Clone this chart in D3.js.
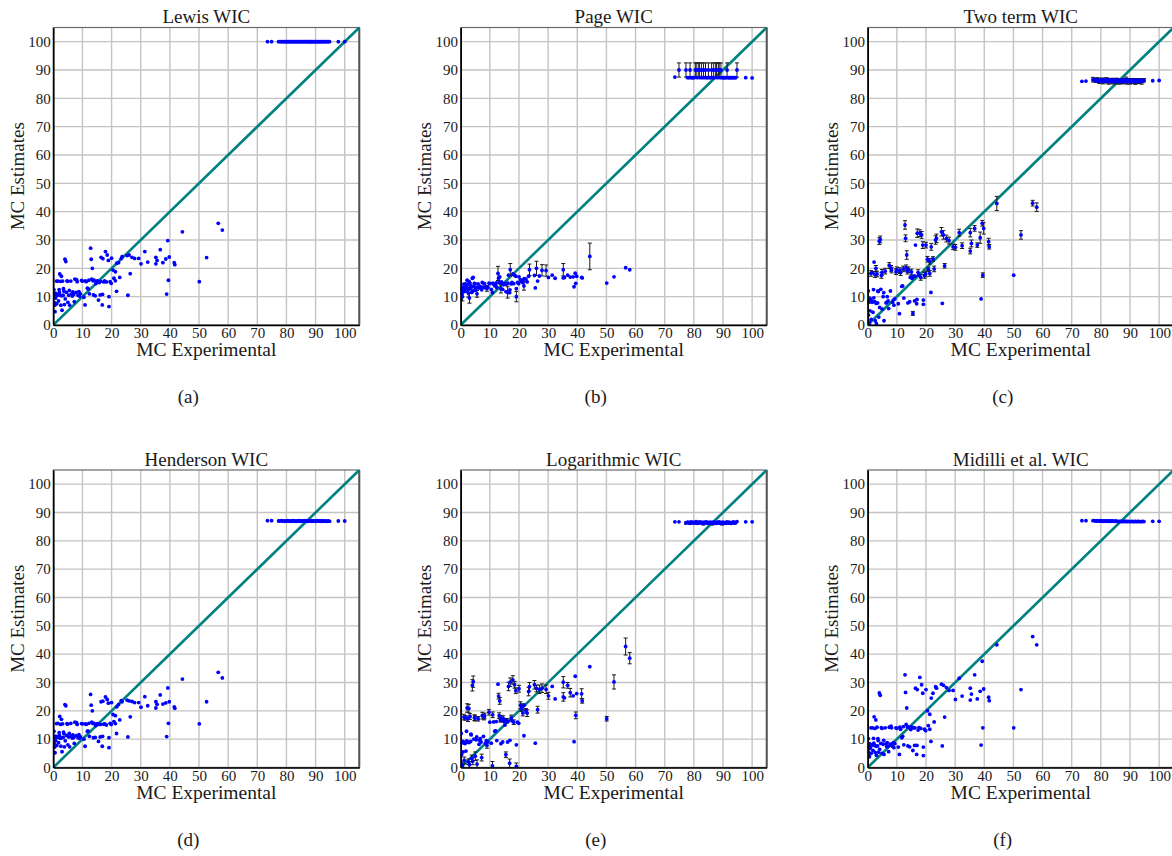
<!DOCTYPE html>
<html>
<head>
<meta charset="utf-8">
<script src="https://cdnjs.cloudflare.com/ajax/libs/d3/7.8.5/d3.min.js"></script>
<style>
  body { margin: 0; background: #fff; }
  svg { display: block; }
  svg text { font-family: 'Liberation Serif', 'Times New Roman', 'DejaVu Serif', serif; }
</style>
</head>
<body>
<svg id="chart" width="1172" height="856"></svg>
<script>
'use strict';

var tickValues = [0, 10, 20, 30, 40, 50, 60, 70, 80, 90, 100];

// MC experimental values, low group then the high group near 80-100
var expLow = [
  0.2, 0.3, 0.4, 0.5, 0.6, 0.8, 1.0, 1.2, 1.4, 1.6,
  1.8, 2.0, 2.2, 2.4, 2.6, 2.8, 3.0, 3.2, 3.4, 3.6,
  3.8, 4.0, 4.3, 4.5, 4.7, 5.0, 5.3, 5.6, 6.0, 6.3,
  6.7, 7.0, 7.4, 7.8, 8.0, 8.5, 9.0, 9.3, 9.7, 10.0,
  10.5, 10.9, 11.3, 11.7, 12.0, 12.4, 12.8, 13.0, 13.2, 13.4,
  13.8, 14.0, 14.4, 14.8, 15.2, 15.5, 15.8, 16.1, 16.4, 16.8,
  16.9, 17.0, 17.3, 17.9, 18.5, 18.9, 19.1, 19.1, 19.5, 19.9,
  20.0, 20.5, 21.3, 21.3, 21.7, 21.8, 22.4, 22.8, 23.3, 23.6,
  25.3, 25.6, 26.0, 26.4, 27.0, 27.9, 29.3, 30.1, 31.4, 32.4,
  35.2, 35.2, 35.6, 36.7, 37.6, 38.6, 38.9, 39.3, 39.5, 39.8,
  41.5, 41.7, 44.3, 50.1, 52.6, 56.6, 58.0,
  0.1, 0.7, 1.1, 1.5, 2.1, 2.5, 2.9, 3.5, 4.1, 4.9, 5.5, 6.5,
  7.2, 8.2, 8.8, 11.0, 12.2, 13.6, 14.6, 15.0, 16.2, 17.6, 18.2, 20.8
];
var expHigh = [
  73.5, 74.9, 77.3, 77.8, 78.3, 78.7, 79.0, 79.4, 79.8, 80.1,
  80.5, 80.8, 81.2, 81.5, 81.9, 82.2, 82.6, 82.9, 83.3, 83.6,
  84.0, 84.3, 84.7, 85.0, 85.4, 85.7, 86.1, 86.4, 86.8, 87.1,
  87.5, 87.8, 88.1, 88.4, 88.7, 89.0, 89.3, 89.7, 90.0, 90.4,
  90.7, 91.1, 91.4, 91.8, 92.1, 92.5, 92.8, 93.2, 93.6, 94.0,
  94.4, 94.8, 97.8, 100.0
];

var lewisLow = [
  12.5, 8, 10, 7, 4.7, 9.5, 11, 7.5, 10.5, 15.5,
  8.5, 12.5, 18, 10.5, 7, 17.2, 5.2, 15.5, 10.5, 12,
  7.2, 23.2, 22.4, 11.5, 15.6, 8, 10.5, 7, 15.5, 11,
  11.7, 10.8, 16.2, 11.5, 16, 10.5, 10.2, 11, 15.7, 15.5,
  9.8, 7.1, 15.3, 13, 12.7, 11, 27.1, 23.2, 16.2, 20,
  10.6, 15.8, 10.3, 15, 15.6, 8.8, 15, 10.6, 23.9, 7.1,
  10.8, 23.4, 15.2, 25.9, 24.7, 22.8, 6.5, 10, 15.3, 14.7,
  23.6, 19.4, 18.8, 15.6, 11.9, 21.8, 22, 16.8, 23.4, 24.1,
  24.5, 10.5, 24.7, 18.1, 23.9, 23.5, 23.5, 21.6, 25.9, 22.2,
  23.9, 21.6, 22.8, 26.6, 22, 23.3, 10.9, 29.8, 15.8, 24,
  22, 21.3, 32.9, 15.3, 23.8, 35.9, 33.5,
  10.5, 11.2, 15.5, 10.8, 11.5, 15.4, 10.3, 12.8, 9.2, 15.4, 12.2, 10.2,
  8.2, 15.3, 11.8, 15.6, 15.8, 15.6, 14.6, 15.5, 15.4, 15.6, 15.2, 16.5
];
var lewisHigh = [
  100, 100, 100, 100, 100, 100, 100, 100, 100,
  100, 100, 100, 100, 100, 100, 100, 100, 100,
  100, 100, 100, 100, 100, 100, 100, 100, 100,
  100, 100, 100, 100, 100, 100, 100, 100, 100,
  100, 100, 100, 100, 100, 100, 100, 100, 100,
  100, 100, 100, 100, 100, 100, 100, 100, 100
];

var pageLow = [
  13, 11.5, 12.5, 11, 10, 12.2, 13.3, 11.8, 13, 14.5,
  12, 13.5, 15.8, 12.8, 11.3, 15.4, 9.5, 14.8, 13, 13.8,
  11.5, 16.5, 16.8, 13.5, 14.7, 12.2, 12.9, 11, 14.5, 13.2,
  13.6, 13, 15, 13.4, 14.6, 13.1, 12.9, 13.3, 14.8, 14.6,
  12.6, 11.5, 14.4, 13.8, 14, 13.2, 18.2, 16.5, 15, 17,
  12.8, 15.2, 12.6, 14.3, 14.6, 11.8, 14.4, 11.5, 17.6, 11.4,
  12.4, 19.5, 14.5, 18, 17.6, 17.2, 10, 12.8, 15, 14.6,
  17, 16, 15.8, 15, 13.8, 16.4, 16.2, 15.2, 17.2, 19.5,
  17.5, 13.1, 20, 15.5, 17.3, 19.3, 19.2, 16.8, 17.6, 16.5,
  19.5, 16.6, 16.8, 17.6, 16.9, 17, 13.5, 18.3, 14.7, 17.2,
  16.8, 16.6, 24.2, 14.8, 17, 20.2, 19.5,
  12.6, 13.2, 14.4, 12.8, 13.2, 14.4, 12.6, 13.6, 12.0, 14.6, 13.4, 13.0,
  12.4, 14.6, 13.4, 14.8, 14.9, 14.9, 14.3, 14.7, 14.8, 15.0, 14.6, 15.4
];
var pageHigh = [
  87.5, 90, 90, 87.3, 87.3, 90, 87.3, 87.3, 87.3, 87.3,
  90, 90, 87.3, 90, 90, 87.3, 90, 87.3, 90, 87.3,
  90, 87.3, 87.3, 90, 87.3, 87.3, 90, 87.3, 90, 87.3,
  90, 90, 87.3, 90, 90, 87.3, 90, 87.3, 87.3, 87.3,
  87.3, 87.3, 90, 87.3, 87.3, 87.3, 87.3, 87.3, 87.3, 87.3,
  87.3, 90, 87.3, 87.2
];
var pageErrLow = [
  0, 0, 0, 0, 1.5, 0, 0, 0, 0, 0,
  0, 0, 0, 0, 1.5, 0, 1.8, 0, 0, 0,
  0, 0, 0, 0, 0, 0, 0, 1.2, 0, 0,
  0, 0, 0, 0, 0, 0, 1, 0, 0, 0,
  0, 0, 0, 0, 0, 0, 2.5, 0, 0, 0,
  1.5, 0, 0, 0, 0, 0, 0, 2, 0, 0,
  0, 2.2, 0, 0, 0, 0, 1.8, 0, 0, 0,
  0, 0, 0, 0, 1.5, 0, 0, 0, 0, 2,
  0, 0, 2.5, 0, 0, 2, 2, 0, 0, 0,
  2.2, 0, 0, 0, 0, 0, 0, 0, 0, 0,
  0, 0, 4.7, 0, 0, 0, 0,
  0, 0, 0, 0, 0, 0, 0, 0, 0, 0, 0, 0,
  0, 0, 0, 0, 0, 0, 0, 0, 0, 0, 0, 0
];
var pageErrHigh = [
  0, 2.5, 2.5, 0, 0, 2.5, 0, 0, 0, 0,
  2.5, 2.5, 0, 2.5, 2.5, 0, 2.5, 0, 2.5, 0,
  2.5, 0, 0, 2.5, 0, 0, 2.5, 0, 2.5, 0,
  2.5, 2.5, 0, 2.5, 2.5, 0, 2.5, 0, 0, 0,
  0, 0, 2.5, 0, 0, 0, 0, 0, 0, 0,
  0, 2.5, 0, 0
];

var twoTermLow = [
  12, 3.5, 8, 1, 0.3, 5, 9, 2, 8.5, 18.5,
  4.5, 12.5, 22.2, 8.2, 1.5, 20, 0.5, 18, 7.8, 11.8,
  2.8, 29.6, 30.2, 12.6, 17.5, 5.6, 10, 1.5, 19, 7.8,
  10, 8.5, 21, 12, 20, 8, 7, 9.2, 18.8, 19.5,
  7.5, 4, 18.5, 13.6, 13.8, 9.5, 35.3, 30.6, 20.2, 24.7,
  7.8, 19.5, 8.2, 17, 16.5, 4.1, 17.2, 8.5, 28.2, 7.5,
  9, 32.4, 18.5, 32.4, 31.8, 28.2, 7.3, 8.8, 17.5, 18,
  28.2, 23.2, 22.5, 18.2, 11.5, 27.6, 23.3, 19.8, 30, 30.6,
  32.9, 7.6, 31.8, 20.9, 30.5, 29.8, 27.6, 27.4, 32.6, 28,
  32.6, 26.1, 28.8, 34.1, 28.2, 30.8, 9.2, 35.9, 17.6, 34.1,
  29.4, 27.6, 42.9, 17.6, 31.8, 43, 41.6,
  8.2, 9.5, 18.2, 8.0, 9.6, 17.8, 7.6, 12.0, 6.2, 18.6, 11.4, 8.0,
  5.8, 19.4, 8.8, 19.2, 19.8, 19.0, 16.8, 18.7, 17.2, 17.6, 16.8, 19.6
];
var twoTermHigh = [
  86.0, 86.1, 86.6, 86.4, 86.2, 86.5, 86.3, 86.0, 86.6,
  86.2, 86.4, 85.9, 86.5, 86.1, 86.3, 86.6, 85.8, 86.2,
  86.4, 86.0, 86.5, 86.1, 85.9, 86.3, 86.6, 86.0, 86.2,
  85.8, 86.4, 86.1, 86.5, 85.9, 86.3, 86.0, 86.6, 85.8,
  86.2, 86.4, 85.9, 86.1, 86.5, 86.0, 86.3, 85.8, 86.2,
  86.4, 85.9, 86.1, 86.3, 85.9, 86.2, 86.4, 86.2, 86.3
];
var twoTermErrLow = [
  0, 0, 0, 0, 0, 0, 0, 0, 0, 0,
  0, 0, 0, 0, 0, 1, 0, 1, 0, 0,
  0, 1.2, 1.2, 0, 1, 0, 0, 0, 1, 0,
  0, 0, 1, 0, 1, 0, 0, 0, 1, 1,
  0, 0, 1, 0, 0, 0, 1.5, 1.2, 1, 1.5,
  0, 1, 0, 0, 0, 0.7, 0, 0, 0, 0,
  0, 1.5, 1, 1.2, 1.2, 1.2, 0, 0, 1, 1,
  1, 1, 1, 1, 0, 1.2, 0.8, 1, 1.5, 1.5,
  1.5, 0, 1.5, 0.8, 1.2, 1.2, 1, 1, 1.2, 1,
  1.5, 1, 1.2, 1, 0.8, 2, 0, 1, 0.8, 2,
  1.2, 0.8, 2.5, 0, 1.5, 1, 1.5,
  0, 0, 1, 0, 0, 1, 0, 0, 0, 1, 0, 0,
  0, 1, 0, 1, 1, 1, 0, 1, 0, 0, 1, 0.8
];
var twoTermErrHigh = [
  0, 0, 0.8, 0.6, 0.5, 0.8, 0.6, 0.7, 0.5,
  0.9, 0.6, 0.8, 0.7, 0.5, 0.9, 0.6, 0.8, 0.7,
  0.5, 0.9, 0.6, 0.7, 0.8, 0.6, 0.5, 0.9, 0.7,
  0.8, 0.6, 0.9, 0.5, 0.8, 0.7, 0.6, 0.9, 0.8,
  0.7, 0.6, 0.9, 0.8, 0.5, 0.7, 0.6, 0.9, 0.8,
  0.6, 0.7, 0.8, 0.5, 0.9, 0.7, 0.6, 0, 0
];

var hendersonLow = [
  12.8, 8.5, 10, 7.2, 5.2, 9.5, 11, 7.8, 10.8, 15.6,
  8.8, 12.3, 18, 10.3, 7.5, 17, 5.6, 15.4, 10.6, 12,
  7.3, 22.2, 21.8, 11.3, 15.5, 8, 10.8, 7.3, 15.6, 11,
  11.5, 10.6, 16, 11.2, 15.8, 10.5, 10.4, 10.8, 15.5, 15.4,
  10, 7.5, 15.2, 12.8, 12.8, 11, 25.8, 22, 16, 20,
  10.5, 15.6, 10.6, 15, 15.5, 9.2, 15.2, 10.8, 23.2, 7.5,
  11, 23.4, 15.3, 24.9, 24, 22.7, 7, 10.5, 15.6, 15.2,
  22.9, 18.7, 18.3, 15.5, 12, 21.4, 22.2, 16.8, 23.6, 23.2,
  23.8, 10.8, 23.5, 17.9, 23.3, 22.9, 22.9, 21.3, 25, 21.8,
  23.2, 21, 22.3, 25.6, 22.4, 22.8, 10.9, 28.1, 15.6, 23.2,
  21.4, 20.9, 31.2, 15.4, 23.2, 33.6, 31.6,
  10.6, 11.0, 15.5, 10.6, 11.3, 15.2, 10.5, 12.5, 9.4, 15.3, 12.0, 10.4,
  8.5, 15.2, 11.6, 15.4, 15.6, 15.5, 14.8, 15.3, 15.2, 15.4, 15.0, 16.2
];
var hendersonHigh = [
  87.1, 87.1, 87.0, 87.0, 87.1, 87.0, 87.0, 86.9, 87.0,
  87.0, 87.1, 87.0, 86.9, 87.0, 87.0, 87.1, 87.0, 87.0,
  86.9, 87.0, 87.0, 87.1, 87.0, 86.9, 87.0, 87.0, 87.0,
  87.1, 87.0, 86.9, 87.0, 87.0, 87.0, 87.1, 86.9, 87.0,
  87.0, 87.0, 86.9, 87.0, 87.1, 87.0, 87.0, 86.9, 87.0,
  87.0, 87.0, 86.9, 87.0, 86.9, 87.0, 86.9, 87.0, 87.0
];

var logLow = [
  12, 4.5, 8.8, 1, 0.5, 5.5, 9, 2.5, 8.5, 17.5,
  5.8, 12.8, 21, 9, 2, 20.8, 1, 18, 9.2, 11.5,
  3.2, 29, 30.3, 10, 17.6, 4, 9.8, 1.2, 17.2, 8.2,
  10.2, 9, 18.3, 11, 17.8, 8.6, 7.8, 9, 19.5, 16,
  8.6, 0.6, 16.1, 12.8, 12.9, 9.5, 29.4, 25.2, 18.3, 23.5,
  8.4, 17.4, 9, 16.2, 15, 4.5, 16.5, 9, 28.6, 1.5,
  9.6, 30.1, 17.5, 30.9, 29.2, 27.1, 0.4, 8, 16, 15.6,
  27.8, 22, 21.5, 19.2, 11.2, 22, 20, 19.2, 26.8, 28.5,
  29.2, 8.6, 27.9, 20.4, 27.6, 28, 27.6, 25.3, 28.6, 24.2,
  30.1, 24.9, 24.6, 29, 26.4, 25.3, 9.1, 32.2, 18.4, 26.1,
  26, 23.5, 35.6, 17.2, 30.2, 42.7, 38.6,
  8.6, 9.2, 17.8, 8.5, 9.4, 17.2, 8.8, 11.8, 2.2, 17.4, 10.8, 9.6,
  3.5, 18.2, 9.5, 18.6, 16.2, 16.8, 17.2, 16.6, 16.2, 16.5, 16.0, 20.8
];
var logHigh = [
  86.7, 86.7, 86.3, 86.6, 86.5, 86.2, 86.7, 86.4, 86.6,
  86.3, 86.5, 86.8, 86.2, 86.6, 86.4, 86.7, 86.3, 86.5,
  86.1, 86.6, 86.4, 86.7, 86.2, 86.5, 86.3, 86.6, 86.4,
  86.1, 86.7, 86.3, 86.5, 86.2, 86.6, 86.4, 86.7, 86.3,
  86.5, 86.1, 86.6, 86.4, 86.2, 86.5, 86.7, 86.3, 86.6,
  86.4, 86.2, 86.5, 86.7, 86.3, 86.5, 86.8, 86.7, 86.7
];
var logErrLow = [
  0, 0, 0, 1, 0, 0, 0, 1.2, 0, 0.8,
  0, 0, 1.5, 0, 1, 1.5, 1, 1, 0, 0,
  1.2, 2, 2, 0, 1, 1.5, 0, 1.5, 0.8, 0,
  0, 0, 1.2, 0, 1, 0, 1, 0, 1, 0,
  0, 1.5, 0, 0, 0, 0, 0, 1, 1, 1.2,
  0, 1, 0, 0, 0, 1, 0.8, 0, 1.5, 1.5,
  0, 1.5, 1, 1.5, 1.2, 1, 1.2, 0, 0, 0,
  1.2, 1.2, 1, 1, 0, 0, 0.8, 1.2, 1.5, 1.5,
  1.5, 0, 1.2, 1.2, 1.5, 1.5, 1.5, 1.2, 0, 0,
  2, 1.5, 0, 1, 1.5, 0, 0, 0, 1.2, 0,
  1.8, 0.8, 0, 0.8, 2.5, 3, 2,
  0, 0, 1, 0, 0, 1, 0, 0, 1.2, 1, 0, 0,
  1.2, 1, 0, 1, 0, 0.8, 1, 0, 0, 0, 0.8, 1
];
var logErrHigh = [
  0, 0, 0.4, 0, 0, 0.4, 0, 0.3, 0,
  0.4, 0, 0, 0.4, 0, 0.3, 0, 0.4, 0,
  0.5, 0, 0.3, 0, 0.4, 0, 0.3, 0, 0.4,
  0.5, 0, 0.4, 0, 0.4, 0, 0.3, 0, 0.4,
  0, 0.5, 0, 0.3, 0.4, 0, 0, 0.4, 0,
  0.3, 0.4, 0, 0, 0.4, 0, 0, 0, 0
];

var midilliLow = [
  10.2, 5.5, 7.2, 4.5, 3.8, 6.8, 7.5, 5, 8, 14,
  6, 10.3, 17.9, 7.8, 5.3, 16.8, 4.3, 14.2, 7.6, 9.5,
  5.4, 26.3, 25.5, 8.5, 14.1, 5, 8.2, 4.6, 14, 8.4,
  8.8, 7.5, 14.2, 8.2, 14.6, 7.5, 7, 8.4, 14, 13.8,
  7.2, 4.6, 13.5, 10.5, 11, 8, 32.7, 26.5, 15.2, 21,
  7.6, 14.3, 7.3, 13.4, 14.2, 6, 14, 7.8, 28, 4.6,
  7.8, 27.5, 13.2, 31.8, 29.2, 26.2, 4.2, 7.2, 13.5, 13,
  27.5, 20, 18.8, 13.5, 9.2, 24.5, 26.2, 16.1, 28.5, 28,
  29.4, 7.6, 29, 17.8, 28.2, 27.2, 27.2, 24, 31.5, 25.2,
  28, 23.8, 25.9, 32.7, 24.2, 26.9, 7.9, 37.5, 14, 27.7,
  24.8, 23.6, 43.3, 14, 27.5, 46.2, 43.3,
  7.8, 8.4, 14.0, 7.8, 8.6, 13.8, 7.5, 10.2, 6.4, 13.8, 9.6, 7.4,
  5.6, 14.0, 8.8, 14.2, 14.4, 14.3, 13.6, 14.2, 14.0, 14.1, 13.8, 14.8
];
var midilliHigh = [
  87.1, 87.1, 87.1, 87.1, 87.0, 87.1, 87.0, 87.0, 87.1,
  87.0, 87.0, 86.9, 87.0, 87.0, 86.9, 87.0, 87.0, 86.9,
  87.0, 86.9, 87.0, 86.9, 86.9, 87.0, 86.9, 86.9, 86.8,
  86.9, 86.9, 86.8, 86.9, 86.8, 86.9, 86.9, 86.8, 86.9,
  86.8, 86.9, 86.8, 86.8, 86.9, 86.8, 86.8, 86.9, 86.8,
  86.8, 86.9, 86.8, 86.8, 86.8, 86.9, 86.8, 86.9, 86.9
];

var mcExperimental = expLow.concat(expHigh);

var panels = [
  {title: 'Lewis WIC', tag: '(a)', est: lewisLow.concat(lewisHigh), err: null},
  {title: 'Page WIC', tag: '(b)', est: pageLow.concat(pageHigh), err: pageErrLow.concat(pageErrHigh)},
  {title: 'Two term WIC', tag: '(c)', est: twoTermLow.concat(twoTermHigh), err: twoTermErrLow.concat(twoTermErrHigh)},
  {title: 'Henderson WIC', tag: '(d)', est: hendersonLow.concat(hendersonHigh), err: null},
  {title: 'Logarithmic WIC', tag: '(e)', est: logLow.concat(logHigh), err: logErrLow.concat(logErrHigh)},
  {title: 'Midilli et al. WIC', tag: '(f)', est: midilliLow.concat(midilliHigh), err: null}
];

var SERIF = "'Liberation Serif', 'Times New Roman', 'DejaVu Serif', serif";
var colLeft = [53.3, 460.7, 867.7];
var rowTop = [27.5, 470];
var plotW = 306;
var plotH = 297.5;
var svg = d3.select('#chart').attr('font-family', SERIF);

function label(g, txt, size) {
  return g.append('text')
    .attr('font-family', SERIF)
    .attr('text-anchor', 'middle')
    .attr('font-size', size)
    .attr('fill', '#1a1a1a')
    .text(txt);
}

function drawPanel(p, i) {
  var col = i % 3;
  var row = Math.floor(i / 3);
  var x = d3.scaleLinear().domain([0, 105]).range([0, plotW]);
  var y = d3.scaleLinear().domain([0, 105]).range([plotH, 0]);
  var g = svg.append('g')
    .attr('transform', 'translate(' + colLeft[col] + ',' + rowTop[row] + ')');

  var clipId = 'clip' + i;
  g.append('clipPath').attr('id', clipId)
    .append('rect').attr('width', plotW).attr('height', plotH);

  // grid
  g.append('g').selectAll('line').data(tickValues).enter().append('line')
    .attr('x1', function (d) { return x(d); })
    .attr('x2', function (d) { return x(d); })
    .attr('y1', 0).attr('y2', plotH)
    .attr('stroke', '#c4c4c4').attr('stroke-width', 1.4);
  g.append('g').selectAll('line').data(tickValues).enter().append('line')
    .attr('y1', function (d) { return y(d); })
    .attr('y2', function (d) { return y(d); })
    .attr('x1', 0).attr('x2', plotW)
    .attr('stroke', '#c4c4c4').attr('stroke-width', 1.4);

  g.append('rect').attr('width', plotW).attr('height', plotH)
    .attr('fill', 'none').attr('stroke', '#6a6a6a').attr('stroke-width', 1.2);
  g.append('line')
    .attr('x1', plotW).attr('x2', plotW).attr('y1', 0).attr('y2', plotH)
    .attr('stroke', '#555').attr('stroke-width', 2);

  var plot = g.append('g').attr('clip-path', 'url(#' + clipId + ')');

  plot.append('line')
    .attr('x1', x(0)).attr('y1', y(0))
    .attr('x2', x(105)).attr('y2', y(105))
    .attr('stroke', '#008080').attr('stroke-width', 2.6);

  var pts = mcExperimental.map(function (v, k) {
    return {x: v, y: p.est[k], e: p.err ? p.err[k] : 0};
  });

  var bars = pts.filter(function (d) { return d.e > 0; });
  var eb = plot.append('g').attr('stroke', '#1a1a1a').attr('stroke-width', 1);
  bars.forEach(function (d) {
    var cx = x(d.x);
    var y0 = y(d.y - d.e);
    var y1 = y(d.y + d.e);
    eb.append('line').attr('x1', cx).attr('x2', cx).attr('y1', y0).attr('y2', y1);
    eb.append('line').attr('x1', cx - 2).attr('x2', cx + 2).attr('y1', y0).attr('y2', y0);
    eb.append('line').attr('x1', cx - 2).attr('x2', cx + 2).attr('y1', y1).attr('y2', y1);
  });

  plot.append('g').selectAll('circle').data(pts).enter().append('circle')
    .attr('cx', function (d) { return x(d.x); })
    .attr('cy', function (d) { return y(d.y); })
    .attr('r', 1.9)
    .attr('fill', '#0000ff');

  var xAxis = g.append('g').attr('transform', 'translate(0,' + plotH + ')')
    .call(d3.axisBottom(x).tickValues(tickValues).tickSize(0).tickPadding(2.5));
  var yAxis = g.append('g')
    .call(d3.axisLeft(y).tickValues(tickValues).tickSize(0).tickPadding(2.6));
  [xAxis, yAxis].forEach(function (a) {
    a.attr('font-family', SERIF).attr('font-size', 15);
    a.select('.domain').attr('stroke', '#000').attr('stroke-width', 1.6);
    a.selectAll('text').attr('font-family', SERIF).attr('fill', '#1a1a1a');
  });

  label(g, p.title, 19).attr('x', plotW / 2).attr('y', -4.5);
  label(g, 'MC Experimental', 19.5).attr('x', plotW / 2).attr('y', plotH + 31);
  label(g, 'MC Estimates', 19)
    .attr('transform', 'translate(-29.5,' + (plotH / 2) + ') rotate(-90)');
  label(g, p.tag, 19).attr('x', plotW / 2 - 18).attr('y', plotH + 78);
}

panels.forEach(drawPanel);
</script>
</body>
</html>
